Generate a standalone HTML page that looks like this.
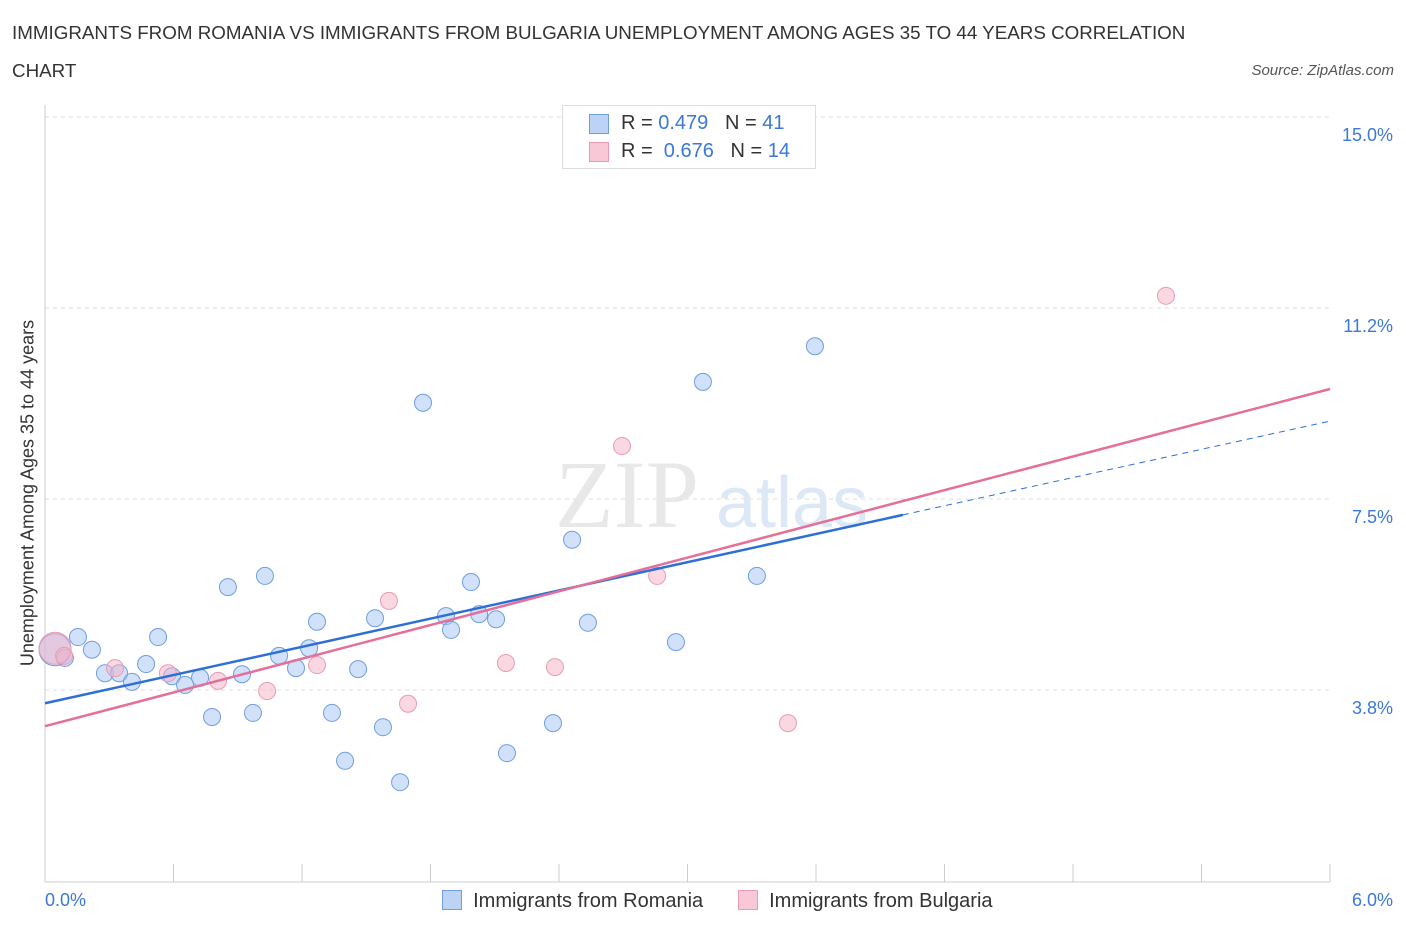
<!DOCTYPE html>
<html><head><meta charset="utf-8"><style>
body{margin:0;background:#fff;font-family:"Liberation Sans",sans-serif;}
#wrap{position:relative;width:1406px;height:930px;overflow:hidden}
.t{position:absolute;white-space:nowrap}
</style></head><body><div id="wrap">
<div class="t" style="left:12px;top:14px;font-size:18.8px;color:#333;line-height:38px">IMMIGRANTS FROM ROMANIA VS IMMIGRANTS FROM BULGARIA UNEMPLOYMENT AMONG AGES 35 TO 44 YEARS CORRELATION<br>CHART</div>
<div class="t" style="right:12px;top:62px;font-size:15px;color:#555;font-style:italic">Source: ZipAtlas.com</div>
<svg id="svg" width="1406" height="930" style="position:absolute;left:0;top:0"></svg>
</div>
<script>
const yTicks=[3.75,7.5,11.25,15];
const yTickLabels=["3.8%","7.5%","11.2%","15.0%"];
const romaniaX=[0.047,0.093,0.154,0.219,0.280,0.346,0.406,0.472,0.528,0.593,0.654,0.724,0.780,0.854,0.920,0.971,1.027,1.093,1.172,1.233,1.270,1.340,1.401,1.462,1.541,1.578,1.658,1.765,1.872,1.896,1.989,2.027,2.106,2.157,2.372,2.461,2.535,2.946,3.072,3.324,3.595];
const romaniaY=[4.54,4.38,4.79,4.54,4.08,4.08,3.91,4.26,4.79,4.02,3.85,3.99,3.22,5.77,4.06,3.30,5.99,4.42,4.18,4.57,5.09,3.30,2.36,4.16,5.16,3.02,1.94,9.39,5.20,4.93,5.87,5.24,5.14,2.51,3.10,6.70,5.07,4.69,9.80,5.99,10.50];
const bulgariaX=[0.047,0.089,0.327,0.574,0.808,1.037,1.270,1.606,1.695,2.152,2.381,2.694,2.858,3.469,5.234];
const bulgariaY=[4.57,4.42,4.18,4.08,3.93,3.73,4.24,5.50,3.48,4.28,4.20,8.54,5.99,3.10,11.49];
const romaniaTrend=[3.49,9.03];
const bulgariaTrend=[3.04,9.66];
const xs=v=>45+v*214.17, ys=v=>881-v*50.93;
const svg=document.getElementById('svg');const NS="http://www.w3.org/2000/svg";
function mk(tag,attrs,name){const e=document.createElementNS(NS,tag);for(const k in attrs)e.setAttribute(k,attrs[k]);


svg.appendChild(e);return e;}
yTicks.forEach((v,i)=>{mk('line',{x1:45,x2:1330,y1:ys(v),y2:ys(v),stroke:'#ddd','stroke-dasharray':'4,4'},'gridline');
const t=mk('text',{x:1393,y:ys(v)+24,'text-anchor':'end','font-size':18,fill:'#3b78d8'},'y-tick-label');t.textContent=yTickLabels[i];});
mk('line',{x1:45,x2:45,y1:105,y2:882,stroke:'#ccc'},'y-axis');
mk('line',{x1:45,x2:1330,y1:882,y2:882,stroke:'#ccc'},'x-axis');
for(let i=0;i<=10;i++){mk('line',{x1:xs(i*0.6),x2:xs(i*0.6),y1:864,y2:882,stroke:'#ccc'},'x-tick');}
const wm=mk('text',{x:555,y:527,'font-size':96,fill:'#e8e8e8','font-family':'Liberation Serif'},'watermark-zip');wm.textContent='ZIP';
const wm2=mk('text',{x:716,y:527,'font-size':72,fill:'#dde8f7'},'watermark-atlas');wm2.textContent='atlas';
romaniaX.forEach((x,i)=>mk('circle',{cx:xs(x),cy:ys(romaniaY[i]),r:i==0?16:8.5,fill:'rgba(164,196,244,0.5)',stroke:'#6e9ee0','stroke-width':1},'romania-point'));
bulgariaX.forEach((x,i)=>mk('circle',{cx:xs(x),cy:ys(bulgariaY[i]),r:i==0?16:8.5,fill:'rgba(246,178,198,0.5)',stroke:'#eb9ab4','stroke-width':1},'bulgaria-point'));
const bEnd=4.006, bAt=v=>romaniaTrend[0]+(romaniaTrend[1]-romaniaTrend[0])*v/6;
mk('line',{x1:xs(0),y1:ys(romaniaTrend[0]),x2:xs(bEnd),y2:ys(bAt(bEnd)),stroke:'#2d6fd6','stroke-width':2.5},'romania-trendline');
mk('line',{x1:xs(bEnd),y1:ys(bAt(bEnd)),x2:xs(6),y2:ys(romaniaTrend[1]),stroke:'#2d6fd6','stroke-width':1,'stroke-dasharray':'6,5'},'romania-trend-extension');
mk('line',{x1:xs(0),y1:ys(bulgariaTrend[0]),x2:xs(6),y2:ys(bulgariaTrend[1]),stroke:'#e4709a','stroke-width':2.5},'bulgaria-trendline');
</script>
<div class="t" style="left:28px;top:493px;font-size:18px;color:#333;transform:translate(-50%,-50%) rotate(-90deg)">Unemployment Among Ages 35 to 44 years</div>
<div class="t" style="left:45px;top:890px;font-size:18px;color:#3b78d8">0.0%</div>
<div class="t" style="right:13px;top:890px;font-size:18px;color:#3b78d8">6.0%</div>
<div style="position:absolute;left:562px;top:105px;width:252px;height:62px;border:1px solid #ddd;background:#fff;font-size:20px;color:#333">
 <div style="position:absolute;left:26px;top:8px;width:18px;height:18px;background:#bcd3f5;border:1px solid #6e9ee0"></div>
 <div class="t" style="left:58px;top:6px">R = <span style="color:#3b78d8">0.479</span>&nbsp;&nbsp;&nbsp;N = <span style="color:#3b78d8">41</span></div>
 <div style="position:absolute;left:26px;top:36px;width:18px;height:18px;background:#f8c8d6;border:1px solid #eb9ab4"></div>
 <div class="t" style="left:58px;top:34px">R = &nbsp;<span style="color:#3b78d8">0.676</span>&nbsp;&nbsp;&nbsp;N = <span style="color:#3b78d8">14</span></div>
</div>
<div style="position:absolute;left:442px;top:890px;font-size:20px;color:#333">
 <span style="display:inline-block;width:18px;height:18px;background:#bcd3f5;border:1px solid #6e9ee0;vertical-align:-3px"></span>&nbsp; Immigrants from Romania</div>
<div style="position:absolute;left:738px;top:890px;font-size:20px;color:#333">
 <span style="display:inline-block;width:18px;height:18px;background:#f8c8d6;border:1px solid #eb9ab4;vertical-align:-3px"></span>&nbsp; Immigrants from Bulgaria</div>
</body></html>
